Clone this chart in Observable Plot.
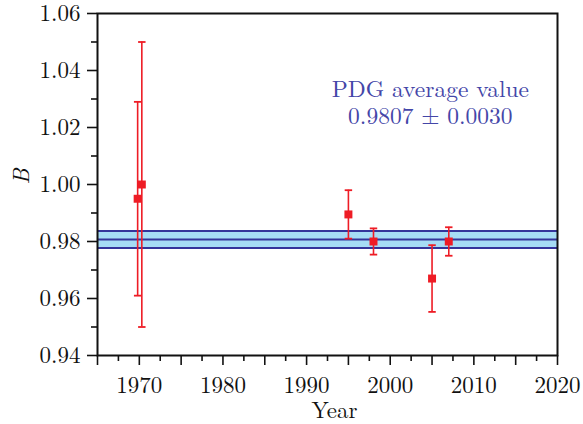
<!DOCTYPE html>
<html>
<head>
<meta charset="utf-8">
<script src="https://cdn.jsdelivr.net/npm/d3@7"></script>
<script src="https://cdn.jsdelivr.net/npm/@observablehq/plot@0.6"></script>
<style>
  body { margin: 0; background: #fff; }
  #chart svg { display: block; }
  #chart svg, #chart svg text { font-family: "Latin Modern Roman", "Liberation Serif", serif !important; }
</style>
</head>
<body>
<div id="chart"></div>
<script>
// Measurements of B by year, with symmetric uncertainties
const years  = [1969.8, 1970.3, 1995, 1998, 2005, 2007];
const values = [0.995, 1.000, 0.9895, 0.980, 0.967, 0.980];
const errors = [0.034, 0.050, 0.0085, 0.0046, 0.0117, 0.005];

// PDG average band
const pdgAverage = 0.9807;
const pdgError = 0.0030;

// Axis tick labels
const xTickLabels = [1970, 1980, 1990, 2000, 2010, 2020];
const yTickLabels = [0.94, 0.96, 0.98, 1.00, 1.02, 1.04, 1.06];

const points = years.map((year, i) => ({
  year, value: values[i], lo: values[i] - errors[i], hi: values[i] + errors[i]
}));

const red = "#ee1c25";
const navy = "#34349a";
const bandFill = "#a6dcf5";
const textBlue = "#4446a8";

// horizontal cap drawn as a custom dot symbol
const capSymbol = {
  draw(context, size) {
    const w = Math.sqrt(size) / 2;
    context.moveTo(-w, 0);
    context.lineTo(w, 0);
  }
};

const xMajor = d3.range(1965, 2021, 5);
const xMinor = d3.range(1967.5, 2020, 5);
const yMinor = d3.range(0.95, 1.06, 0.02);

const chart = Plot.plot({
  width: 583,
  height: 424,
  marginLeft: 97,
  marginRight: 26,
  marginTop: 13,
  marginBottom: 69,
  style: { fontFamily: "'Latin Modern Roman', serif", fontSize: "23px", color: "#111", background: "#fff" },
  x: { domain: [1965, 2020] },
  y: { domain: [0.94, 1.06] },
  marks: [
    Plot.rect([pdgAverage], { y1: d => d - pdgError, y2: d => d + pdgError, fill: bandFill }),
    Plot.ruleY([pdgAverage - pdgError, pdgAverage, pdgAverage + pdgError], { stroke: navy, strokeWidth: 2 }),
    Plot.ruleX(points, { x: "year", y1: "lo", y2: "hi", stroke: red, strokeWidth: 1.6 }),
    Plot.dot(points, { x: "year", y: "lo", symbol: capSymbol, r: 4.2, stroke: red, fill: "none", strokeWidth: 1.8 }),
    Plot.dot(points, { x: "year", y: "hi", symbol: capSymbol, r: 4.2, stroke: red, fill: "none", strokeWidth: 1.8 }),
    Plot.dot(points, { x: "year", y: "value", symbol: "square", r: 4.5, fill: red, stroke: "none" }),
    Plot.text([pdgAverage], {
      x: 2004.8, y: 1.029,
      text: d => `PDG average value\n${d.toFixed(4)} ± ${pdgError.toFixed(4)}`,
      fill: textBlue, fontSize: 23.5, lineHeight: 1.15, textAnchor: "middle"
    }),
    Plot.axisX(xMajor, {
      tickSize: 10, tickPadding: 11, strokeWidth: 1.6,
      tickFormat: d => xTickLabels.includes(d) ? String(d) : "",
      label: null
    }),
    Plot.axisX(xMinor, { tickSize: 6, strokeWidth: 1.6, tickFormat: () => "", label: null }),
    Plot.axisY(yTickLabels, {
      tickSize: 10, tickPadding: 7, strokeWidth: 1.6,
      tickFormat: d => d.toFixed(2), label: null
    }),
    Plot.axisY(yMinor, { tickSize: 6, strokeWidth: 1.6, tickFormat: () => "", label: null }),
    // axis titles
    Plot.text(["Year"], { frameAnchor: "bottom", lineAnchor: "bottom", dy: 62, dx: 7, fontSize: 23 }),
    Plot.text(["B"], { frameAnchor: "left", rotate: -90, dx: -76, fontStyle: "italic", fontSize: 23 }),
    Plot.frame({ stroke: "#111", strokeWidth: 2 })
  ]
});

document.getElementById("chart").appendChild(chart);
</script>
</body>
</html>
